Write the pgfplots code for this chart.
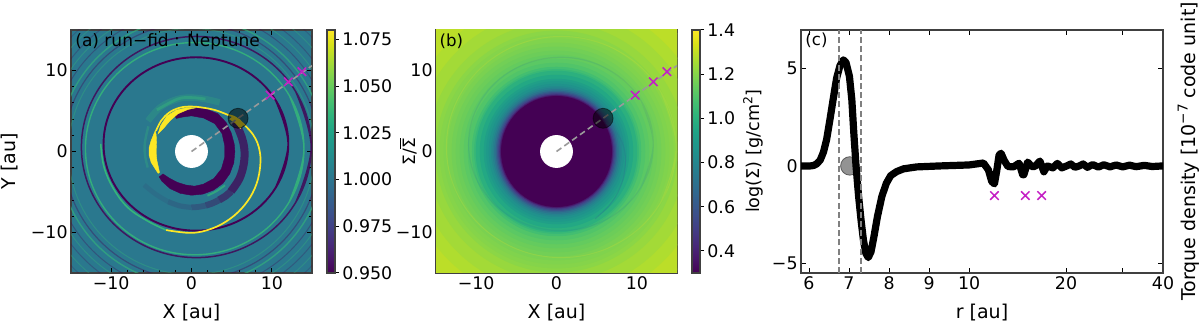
\documentclass[border=0pt]{standalone}
\usepackage{fontspec}
\setmainfont{DejaVu Sans}
\usepackage{pgfplots}
\pgfplotsset{compat=1.18}
\definecolor{vio}{HTML}{440154}
\definecolor{yel}{HTML}{FDE725}
\definecolor{grn}{HTML}{35B779}
\definecolor{bgt}{HTML}{2A788E}
\definecolor{mag}{HTML}{C41FC4}
\definecolor{dgray}{HTML}{9A9A9A}
\newcommand{\fs}[1]{\fontsize{#1}{#1}\selectfont}
\pgfplotsset{
  every tick label/.append style={font=\fs{8.7},inner sep=1.5pt},
  every axis label/.append style={font=\fs{9.5}},
  major tick length=2.5pt, minor tick length=1.3pt,
  tick style={black,line width=.5pt},
  axis line style={line width=.6pt,black!75},
  clip marker paths=true,
  disc/.style={
    xmin=-15,xmax=15,ymin=-15,ymax=15,
    width=120.5pt,height=121.5pt,scale only axis,
    tick align=inside,
    xtick={-10,0,10},xticklabels={−10,0,10},
    ytick={-10,0,10},yticklabels={−10,0,10},
    minor tick num=4,
    xlabel={X [au]},
    xlabel style={at={(axis description cs:.5,-.161)},anchor=center},
  },
  cbar/.style={
    at={(parent axis.north east)},anchor=north west,xshift=-1.03pt,
    width=4pt,height=121.5pt,scale only axis,
    ytick pos=right,yticklabel pos=right,tick align=outside,
    major tick length=2pt,
  },
  ln/.style={data cs=polar,smooth,tension=.62,no marks},
  el/.style={smooth,tension=.64,no marks},
  cross/.style={only marks,mark=x,mark size=3pt,mark options={draw=mag,line width=.75pt}},
}
\newcommand{\ring}[4]{\addplot[only marks,mark=o,mark size=#1pt,mark options={draw=#2,line width=#3pt,draw opacity=#4}] coordinates {(0,0)};}
\begin{document}
\begin{tikzpicture}
\useasboundingbox (0,0) rectangle (600pt,162pt);

% panel a
\begin{axis}[disc,at={(35.5pt,25.5pt)},anchor=south west,
  axis background/.style={fill=bgt},
  ylabel={Y [au]},
  ylabel style={at={(axis description cs:-.254,.46)},anchor=center},
  colormap/viridis,point meta min=.95,point meta max=1.08,colorbar,
  colorbar style={cbar,
    ytick={.95,.975,1,1.025,1.05,1.075},
    yticklabels={0.950,0.975,1.000,1.025,1.050,1.075},
    ylabel={Σ/$\overline{\mbox{Σ}}$},
    ylabel style={at={(axis description cs:10.1,.5)},anchor=center,font=\fs{8.5}},
  }]
% faint rings towards the corners
\ring{61.5}{grn}{.5}{.35}
\ring{64}{vio}{.6}{.35}
\ring{66.5}{grn}{.7}{.6}
\ring{70}{vio}{.5}{.3}
\ring{73}{grn}{.5}{.35}
\ring{76}{vio}{.5}{.25}
\ring{79.5}{grn}{.5}{.3}
\ring{83}{vio}{.5}{.2}
% outer spiral pair
\addplot[el,vio,line width=.75pt,opacity=.8] coordinates {
  (12.98,-6.28)(14.9,.55)(12.98,7.38)(7.75,12.37)(.6,14.2)(-6.55,12.37)(-11.78,7.38)(-13.7,.55)
  (-11.78,-6.28)(-6.55,-11.27)(.6,-13.1)(7.75,-11.27)(12.98,-6.28)(14.9,.55)(12.98,7.38)};
\addplot[el,grn,line width=.7pt,opacity=.85] coordinates {
  (12.18,-6.2)(14,.35)(12.18,6.9)(7.2,11.7)(.4,13.45)(-6.4,11.7)(-11.38,6.9)(-13.2,.35)
  (-11.38,-6.2)(-6.4,-11)(.4,-12.75)(7.2,-11)(12.18,-6.2)(14,.35)(12.18,6.9)};
% soft arcs near the gap
\addplot[ln,grn,line width=3.2pt,opacity=.25] coordinates {(145,6.6)(125,6.7)(105,6.7)(90,6.65)(75,6.7)(60,7.0)};
\addplot[ln,grn,line width=1.4pt,opacity=.45] coordinates {(130,6.7)(105,6.7)(90,6.65)(75,6.7)};
\addplot[ln,grn,line width=1.2pt,opacity=.3] coordinates {(150,6.2)(170,5.9)(185,5.8)(200,5.8)};
\addplot[ln,grn,line width=1pt,opacity=.7] coordinates {(-70,5.8)(-58,5.8)(-45,5.9)};
% spiral arm below the planet
\addplot[ln,vio,line width=4pt,opacity=.72] coordinates {(35,6.6)(15,6.5)(0,6.6)(-15,6.7)(-30,6.85)(-45,6.95)};
\addplot[ln,vio,line width=3.6pt,opacity=.55] coordinates {(-45,6.95)(-52,6.95)(-60,6.9)};
\addplot[ln,vio,line width=3.2pt,opacity=.38] coordinates {(-60,6.9)(-67,6.9)(-75,6.9)};
\addplot[ln,vio,line width=2.9pt,opacity=.25] coordinates {(-75,6.9)(-82,6.9)(-90,6.9)};
\addplot[ln,vio,line width=2.6pt,opacity=.15] coordinates {(-90,6.9)(-102,6.87)(-115,6.85)};
\addplot[ln,vio,line width=2.4pt,opacity=.08] coordinates {(-115,6.85)(-130,6.9)(-145,7.2)};
% main ring
\addplot[el,vio,line width=.95pt] coordinates {
  (10.51,-4.42)(12.05,.93)(10.51,6.28)(6.3,10.2)(.55,11.63)(-5.2,10.2)(-9.41,6.28)(-10.95,.93)
  (-9.41,-4.42)(-5.2,-8.34)(.55,-9.77)(6.3,-8.34)(10.51,-4.42)(12.05,.93)(10.51,6.28)};
% green line that carries on from the yellow spiral, outside the ring
\addplot[el,grn,line width=.75pt] coordinates {(-3.15,-9.7)(-5.37,-8.64)(-7.9,-6.95)(-9.71,-4.6)(-10.9,-1.9)(-11.3,.93)};
% thick dark band
\addplot[data cs=polar,no marks,fill=vio,draw=vio,line width=.2pt] coordinates {
  (115,4.9)(100,5.15)(85,5.4)(70,5.55)(55,5.7)(40,5.6)(25,5.45)(10,5.4)(0,5.4)(-15,5.45)(-30,5.5)
  (-45,5.55)(-60,5.5)(-75,5.45)(-90,5.4)(-105,5.35)(-120,5.3)(-135,5.2)(-142,5.1)
  (-142,4.5)(-130,4.3)(-115,4.2)(-100,4.2)(-85,4.3)(-70,4.3)(-50,4.35)(-30,4.3)(-10,4.2)
  (10,4.2)(30,4.4)(50,4.5)(70,4.4)(90,4.4)(105,4.4)(115,4.5)} -- cycle;
% yellow arc, wedge and crescent
\addplot[ln,yel,line width=.85pt] coordinates {
  (150,5.1)(135,5.35)(120,5.55)(105,5.6)(90,5.55)(75,5.6)(60,5.9)(45,6.4)(35,7.0)(15,7.95)(0,8.5)
  (-15,8.8)(-30,9.1)(-45,9.35)(-60,9.6)(-75,9.85)(-90,10.05)(-108,10.2)};
\addplot[data cs=polar,no marks,fill=yel,draw=yel,line width=.2pt] coordinates {
  (152,4.7)(140,5.0)(125,5.35)(110,5.45)(95,5.45)(85,5.4)(95,5.2)(110,4.95)(125,4.65)(140,4.5)} -- cycle;
\addplot[data cs=polar,no marks,fill=yel,draw=yel,line width=.2pt] coordinates {
  (150,5.2)(165,5.2)(175,5.3)(185,5.3)(195,5.2)(205,5.0)(213,4.95)
  (213,4.75)(205,4.55)(195,4.45)(185,4.4)(175,4.4)(165,4.5)(155,4.85)} -- cycle;
\addplot[data cs=polar,no marks,fill=yel,draw=yel,line width=.2pt] coordinates {
  (40,6.2)(33,6.5)(25,6.7)(27,7.2)(33,7.2)(40,6.8)} -- cycle;
% hole, radial line, planet, crosses
\addplot[only marks,mark=*,mark size=8pt,mark options={fill=white,draw=white}] coordinates {(0,0)};
\addplot[dgray,line width=.8pt,dash pattern=on 3pt off 1.8pt] coordinates {(0,0)(15,10.6)};
\addplot[only marks,mark=*,mark size=5pt,mark options={fill=black,draw=black,fill opacity=.5,draw opacity=.5}] coordinates {(5.8,4.1)};
\addplot[cross] coordinates {(9.8,6.95)(12.05,8.6)(13.75,9.85)};
\node[anchor=west,font=\fs{8.5},inner sep=0pt] at (axis cs:-14.5,13.55) {(a) run−fid : Neptune};
\end{axis}

% panel b
\begin{axis}[disc,at={(218pt,25.5pt)},anchor=south west,
  colormap/viridis,point meta min=.3,point meta max=1.4,colorbar,
  colorbar style={cbar,
    ytick={.4,.6,.8,1,1.2,1.4},
    yticklabels={0.4,0.6,0.8,1.0,1.2,1.4},
    ylabel={log(Σ) [g/cm\raisebox{.4em}{\fs{6.2}2}]},
    ylabel style={at={(axis description cs:7.625,.5)},anchor=center,font=\fs{8.8}},
  }]
\addplot[scatter,only marks,mark=*,point meta=explicit,
  scatter/use mapped color={draw=mapped color,fill=mapped color},
  visualization depends on={4.017*\thisrow{r}\as\rad},
  scatter/@pre marker code/.append style={/tikz/mark size=\rad}]
  table[x=x,y=y,meta=v] {
x y r v
0 0 23 1.30
0 0 21 1.29
0 0 19 1.27
0 0 17.5 1.25
0 0 16 1.23
0 0 15 1.21
0 0 14.5 1.20
0 0 14 1.19
0 0 13.5 1.18
0 0 13 1.165
0 0 12.5 1.155
0 0 12 1.14
0 0 11.5 1.12
0 0 11 1.10
0 0 10.5 1.07
0 0 10.2 1.04
0 0 10 1.0
0 0 9.5 .96
0 0 9 .92
0 0 8.7 .89
0 0 8.4 .86
0 0 8.1 .82
0 0 7.9 .78
0 0 7.7 .72
0 0 7.5 .65
0 0 7.35 .58
0 0 7.2 .51
0 0 7.05 .43
0 0 6.95 .37
0 0 6.85 .3
};
\addplot[el,bgt,line width=.6pt,opacity=.15] coordinates {
  (10.51,-4.42)(12.05,.93)(10.51,6.28)(6.3,10.2)(.55,11.63)(-5.2,10.2)(-9.41,6.28)(-10.95,.93)
  (-9.41,-4.42)(-5.2,-8.34)(.55,-9.77)(6.3,-8.34)(10.51,-4.42)(12.05,.93)(10.51,6.28)};
\addplot[el,yel,line width=.5pt,opacity=.15] coordinates {
  (12.98,-6.28)(14.9,.55)(12.98,7.38)(7.75,12.37)(.6,14.2)(-6.55,12.37)(-11.78,7.38)(-13.7,.55)
  (-11.78,-6.28)(-6.55,-11.27)(.6,-13.1)(7.75,-11.27)(12.98,-6.28)(14.9,.55)(12.98,7.38)};
\addplot[ln,bgt,line width=.5pt,opacity=.4] coordinates {
  (30,7.1)(15,7.95)(0,8.5)(-15,8.8)(-30,9.1)(-45,9.35)(-60,9.6)};
\addplot[only marks,mark=*,mark size=8pt,mark options={fill=white,draw=white}] coordinates {(0,0)};
\addplot[dgray,line width=.8pt,dash pattern=on 3pt off 1.8pt] coordinates {(0,0)(15,10.6)};
\addplot[only marks,mark=*,mark size=5pt,mark options={fill=black,draw=black,fill opacity=.5,draw opacity=.5}] coordinates {(5.8,4.1)};
\addplot[cross] coordinates {(9.8,6.95)(12.05,8.6)(13.75,9.85)};
\node[anchor=west,font=\fs{8.3},inner sep=0pt] at (axis cs:-14.6,13.55) {(b)};
\end{axis}

% panel c: linear up to r=10, logarithmic beyond
\begin{axis}[at={(400.5pt,25.5pt)},anchor=south west,
  width=181pt,height=121.5pt,scale only axis,
  x coord trafo/.code={\pgfmathparse{#1>10 ? 10+8.05*log10(#1/10) : #1}},
  xmin=5.8,xmax=40,ymin=-5.49,ymax=6.97,
  tick align=inside,
  xtick={6,7,8,9,10,20,30,40},xticklabels={6,7,8,9,10,20,,40},
  ytick={-5,0,5},yticklabels={−5,0,5},
  xlabel={r [au]},
  xlabel style={at={(axis description cs:.5,-.161)},anchor=center},
  ylabel={Torque density [10\raisebox{.4em}{\fs{6.8}−7} code unit]},
  ylabel style={at={(axis description cs:1.07,.5)},anchor=center},
]
\addplot[only marks,mark=*,mark size=4.6pt,mark options={fill=gray,draw=gray!70!black,fill opacity=.85}] coordinates {(7.02,0)};
\addplot[black,line width=3.6pt,line join=round,line cap=round,no marks] coordinates {
(5.8,0)(6.03,0)(6.11,.02)(6.19,.1)(6.28,.3)(6.36,.7)(6.44,1.35)(6.525,2.4)(6.61,3.5)(6.69,4.5)
(6.775,5.15)(6.86,5.44)(6.925,5.3)(7.01,4.6)(7.07,3.4)(7.12,1.68)(7.175,0)(7.24,-1.57)(7.3,-2.77)
(7.36,-3.8)(7.42,-4.48)(7.48,-4.7)(7.55,-4.4)(7.625,-3.6)(7.71,-2.6)(7.82,-1.57)(7.93,-.9)(8.04,-.5)
(8.19,-.29)(8.36,-.15)(8.69,-.05)(9.27,0)(10,.05)(11.08,.15)(11.48,-.2)(11.76,-.8)(11.99,-.92)
(12.2,-.2)(12.39,.55)(12.57,.65)(12.84,.3)(13.2,-.03)(13.73,-.05)(14.3,.14)(14.67,-.45)(14.8,-.45)
(15.2,.2)(15.65,-.03)(15.99,-.03)(16.6,.25)(17.07,-.3)(17.5,0)(18.2,-.1)(18.8,.13)(19.4,-.1)(20.1,0)
(20.7,.1)(21.3,-.07)(22,0)(22.6,.1)(23.3,-.07)(24.2,.07)(25.2,-.06)(26.2,.06)(27.4,-.05)(28.6,.05)
(30,-.05)(31.5,.04)(33,-.04)(35,.03)(37,-.03)(40,0)};
\addplot[gray,line width=.75pt,dash pattern=on 3pt off 1.6pt] coordinates {(6.75,-5.49)(6.75,6.97)};
\addplot[gray,line width=.75pt,dash pattern=on 3pt off 1.6pt] coordinates {(7.3,-5.49)(7.3,6.97)};
\addplot[cross] coordinates {(11.99,-1.52)(14.95,-1.52)(16.8,-1.52)};
\node[anchor=west,font=\fs{8.3},inner sep=0pt] at (axis cs:5.9,6.45) {(c)};
\end{axis}
\end{tikzpicture}
\end{document}
